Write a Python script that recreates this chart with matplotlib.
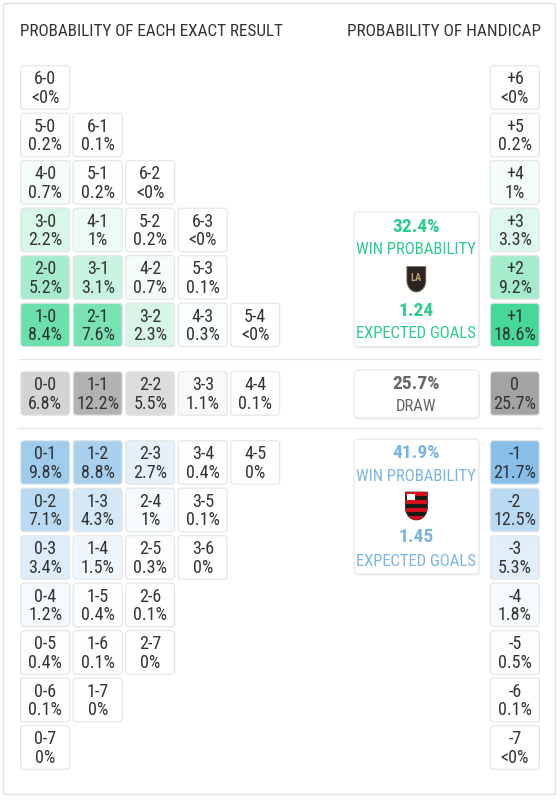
import matplotlib
matplotlib.use("Agg")
import matplotlib.pyplot as plt
from matplotlib.patches import FancyBboxPatch, Polygon, Rectangle
from matplotlib import font_manager as fm
import numpy as np

# ---------------- data ----------------
home_win_scores = [["6-0"], ["5-0", "6-1"], ["4-0", "5-1", "6-2"],
                   ["3-0", "4-1", "5-2", "6-3"], ["2-0", "3-1", "4-2", "5-3"],
                   ["1-0", "2-1", "3-2", "4-3", "5-4"]]
home_win_probs = [["<0%"], ["0.2%", "0.1%"], ["0.7%", "0.2%", "<0%"],
                  ["2.2%", "1%", "0.2%", "<0%"], ["5.2%", "3.1%", "0.7%", "0.1%"],
                  ["8.4%", "7.6%", "2.3%", "0.3%", "<0%"]]
draw_scores = ["0-0", "1-1", "2-2", "3-3", "4-4"]
draw_probs = ["6.8%", "12.2%", "5.5%", "1.1%", "0.1%"]
away_win_scores = [["0-1", "1-2", "2-3", "3-4", "4-5"], ["0-2", "1-3", "2-4", "3-5"],
                   ["0-3", "1-4", "2-5", "3-6"], ["0-4", "1-5", "2-6"],
                   ["0-5", "1-6", "2-7"], ["0-6", "1-7"], ["0-7"]]
away_win_probs = [["9.8%", "8.8%", "2.7%", "0.4%", "0%"], ["7.1%", "4.3%", "1%", "0.1%"],
                  ["3.4%", "1.5%", "0.3%", "0%"], ["1.2%", "0.4%", "0.1%"],
                  ["0.4%", "0.1%", "0%"], ["0.1%", "0%"], ["0%"]]
handicap_home_labels = ["+6", "+5", "+4", "+3", "+2", "+1"]
handicap_home_probs = ["<0%", "0.2%", "1%", "3.3%", "9.2%", "18.6%"]
handicap_draw_label = "0"
handicap_draw_prob = "25.7%"
handicap_away_labels = ["-1", "-2", "-3", "-4", "-5", "-6", "-7"]
handicap_away_probs = ["21.7%", "12.5%", "5.3%", "1.8%", "0.5%", "0.1%", "<0%"]
home_win_pct, home_xg = "32.4%", "1.24"
draw_pct = "25.7%"
away_win_pct, away_xg = "41.9%", "1.45"
title_left = "PROBABILITY OF EACH EXACT RESULT"
title_right = "PROBABILITY OF HANDICAP"

# ---------------- style ----------------
GREEN = np.array([0x00, 0xC9, 0x70]) / 255
GRAY = np.array([0xA3, 0xA3, 0xA3]) / 255
BLUE = np.array([0x71, 0xB3, 0xE5]) / 255
GREEN_TXT = "#2bcc8c"
BLUE_TXT = "#7ab4e2"
GRAY_TXT = "#666666"
TXT = "#333333"
EDGE = "#e4e4e4"


def pick_font():
    names = {f.name for f in fm.fontManager.ttflist}
    for cand in ["Roboto Condensed", "Open Sans Condensed", "Liberation Sans Narrow",
                 "Noto Sans Condensed", "DejaVu Sans Condensed"]:
        if cand in names:
            return cand, "normal"
    for f in fm.fontManager.ttflist:
        if f.name == "DejaVu Sans" and "ondensed" in f.fname:
            return "DejaVu Sans", "condensed"
    return "DejaVu Sans", "normal"


FONT, STRETCH = pick_font()
plt.rcParams["font.family"] = [FONT, "DejaVu Sans"]


def pval(s):
    return float(s.replace("<", "").replace("%", ""))


def mix(base, t):
    t = max(0.0, min(1.0, t))
    return tuple(1 - (1 - base) * t)


W, H = 49, 43.5
COL_X0, COL_DX = 20.7, 52.5
ROW_DY = 47.5
HOME_Y0 = 65.7
DRAW_Y = 371.7
AWAY_Y0 = 440.7
HC_X = 490.3
GRID_REF = 14.5
HC_REF = 25.7
FS = 13.0

fig = plt.figure(figsize=(5.6, 8.0), dpi=100)
fig.patch.set_facecolor("white")
ax = fig.add_axes([0, 0, 1, 1])
ax.set_xlim(0, 560)
ax.set_ylim(800, 0)
ax.axis("off")

# card
ax.add_patch(FancyBboxPatch((3.5, 3.5), 552, 791, boxstyle="round,pad=0,rounding_size=2",
                            fc="white", ec="#e2e2e2", lw=1.0, zorder=0))

def txt(x, y, s, size=FS, color=TXT, weight="normal", ha="center"):
    ax.text(x, y, s, fontsize=size, color=color, ha=ha, va="baseline",
            fontweight=weight, fontstretch=STRETCH, zorder=5)


def cell(x, y, label, prob, base, ref):
    color = mix(base, pval(prob) / ref)
    ax.add_patch(FancyBboxPatch((x, y), W, H, boxstyle="round,pad=0,rounding_size=3",
                                fc=color, ec=EDGE, lw=0.8, zorder=2))
    txt(x + W / 2, y + 18.6, label)
    txt(x + W / 2, y + 37.2, prob)


# titles
txt(20, 36.5, title_left, size=12.3, ha="left")
txt(541, 36.5, title_right, size=12.4, ha="right")

# home wins
for i, (sc, pr) in enumerate(zip(home_win_scores, home_win_probs)):
    y = HOME_Y0 + i * ROW_DY
    for j, (s, p) in enumerate(zip(sc, pr)):
        cell(COL_X0 + j * COL_DX, y, s, p, GREEN, GRID_REF)
for i, (s, p) in enumerate(zip(handicap_home_labels, handicap_home_probs)):
    cell(HC_X, HOME_Y0 + i * ROW_DY, s, p, GREEN, HC_REF)

# draws
for j, (s, p) in enumerate(zip(draw_scores, draw_probs)):
    cell(COL_X0 + j * COL_DX, DRAW_Y, s, p, GRAY, GRID_REF)
cell(HC_X, DRAW_Y, handicap_draw_label, handicap_draw_prob, GRAY, HC_REF)

# away wins
for i, (sc, pr) in enumerate(zip(away_win_scores, away_win_probs)):
    y = AWAY_Y0 + i * ROW_DY
    for j, (s, p) in enumerate(zip(sc, pr)):
        cell(COL_X0 + j * COL_DX, y, s, p, BLUE, GRID_REF)
for i, (s, p) in enumerate(zip(handicap_away_labels, handicap_away_probs)):
    cell(HC_X, AWAY_Y0 + i * ROW_DY, s, p, BLUE, HC_REF)

# separators
for ys in (359.3, 427.7):
    ax.plot([19, 541], [ys, ys], color="#e8e8e8", lw=1.0, zorder=1)

# summary boxes
BX0, BX1 = 354, 478.7
CX = (BX0 + BX1) / 2


def sbox(y0, y1):
    ax.add_patch(FancyBboxPatch((BX0 + 1, y0 + 1.5), BX1 - BX0, y1 - y0,
                                boxstyle="round,pad=0,rounding_size=4",
                                fc="#eeeeee", ec="none", zorder=1))
    ax.add_patch(FancyBboxPatch((BX0, y0), BX1 - BX0, y1 - y0,
                                boxstyle="round,pad=0,rounding_size=4",
                                fc="white", ec="#e6e6e6", lw=0.8, zorder=2))


def shield(cx, top, w, h):
    t = np.linspace(0, np.pi / 2, 12)
    right = [(w / 2, 0), (w / 2, 0.55 * h)]
    curve_r = [(w / 2 * np.cos(a), 0.55 * h + 0.45 * h * np.sin(a)) for a in t]
    curve_l = [(-w / 2 * np.cos(a), 0.55 * h + 0.45 * h * np.sin(a)) for a in t[::-1]]
    pts = [(-w / 2, 0)] + right + curve_r + curve_l + [(-w / 2, 0.55 * h)]
    return [(cx + px, top + py) for px, py in pts]


BIG = 14.0
LBL = 12.0

# home box
sbox(212, 346.7)
txt(CX, 231.7, home_win_pct, size=BIG, color=GREEN_TXT, weight="bold")
txt(CX, 254, "WIN PROBABILITY", size=LBL, color=GREEN_TXT)
lafc = Polygon(shield(CX, 266.5, 19, 25.5), closed=True, fc="#2a2424", ec="#8b7a55", lw=0.6, zorder=4)
ax.add_patch(lafc)
ax.text(CX, 278, "LA", fontsize=7.5, color="#c39e6d", ha="center", va="center",
        fontweight="bold", zorder=5)
txt(CX, 316, home_xg, size=BIG, color=GREEN_TXT, weight="bold")
txt(CX, 338.3, "EXPECTED GOALS", size=LBL, color=GREEN_TXT)

# draw box
sbox(370, 418)
txt(CX, 389.3, draw_pct, size=BIG, color=GRAY_TXT, weight="bold")
txt(CX, 411, "DRAW", size=LBL, color=GRAY_TXT)

# away box
sbox(439, 574)
txt(CX, 457.7, away_win_pct, size=BIG, color=BLUE_TXT, weight="bold")
txt(CX, 480.7, "WIN PROBABILITY", size=LBL, color=BLUE_TXT)
fl_pts = shield(CX, 492, 22, 28)
fl = Polygon(fl_pts, closed=True, fc="#1a1a1a", ec="#1a1a1a", lw=0.5, zorder=4)
ax.add_patch(fl)
for k in range(7):
    if k % 2 == 0:
        r = Rectangle((CX - 12, 492 + k * 4), 24, 4, fc="#d0101b", ec="none", zorder=5)
        r.set_clip_path(fl)
        ax.add_patch(r)
ax.add_patch(Rectangle((CX - 9, 494), 8, 6, fc="white", ec="none", zorder=6))
txt(CX, 542.3, away_xg, size=BIG, color=BLUE_TXT, weight="bold")
txt(CX, 565.7, "EXPECTED GOALS", size=LBL, color=BLUE_TXT)

fig.savefig("out.png", dpi=100, facecolor="white")
